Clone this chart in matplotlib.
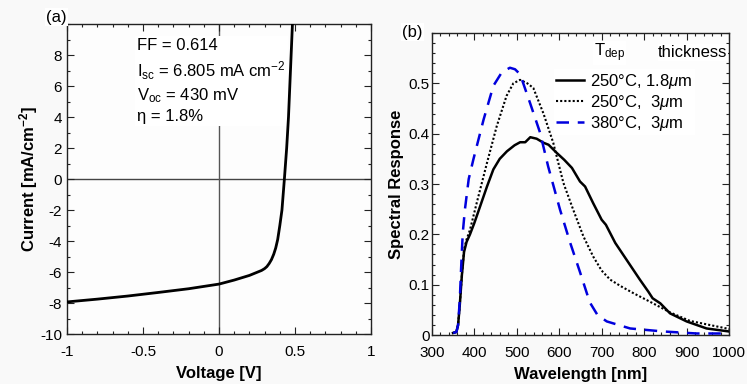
import matplotlib
matplotlib.use("Agg")
import matplotlib.pyplot as plt
from matplotlib.ticker import MultipleLocator

plt.rcParams['font.family'] = ['Liberation Sans', 'DejaVu Sans']
plt.rcParams['mathtext.fontset'] = 'custom'
plt.rcParams['mathtext.rm'] = 'Liberation Sans'
plt.rcParams['mathtext.it'] = 'Liberation Sans:italic'
plt.rcParams['mathtext.bf'] = 'Liberation Sans:bold'

# ---- Panel (a): J-V curve ----
voltage = [-1.0, -0.8, -0.6, -0.4, -0.2, 0.0, 0.1, 0.2, 0.25, 0.28, 0.3, 0.315, 0.33,
           0.345, 0.36, 0.373, 0.386, 0.4, 0.414, 0.43, 0.445, 0.457, 0.47, 0.483]
current = [-7.93, -7.75, -7.55, -7.32, -7.08, -6.78, -6.52, -6.22, -6.02, -5.9, -5.78,
           -5.65, -5.45, -5.2, -4.85, -4.45, -3.9, -3.0, -2.0, 0.0, 2.0, 4.0, 7.0, 10.0]

# ---- Panel (b): spectral response ----
wl_a = [350, 358, 362, 366, 371, 376, 382, 390, 400, 414, 430, 445, 460, 477, 495,
        508, 520, 532, 547, 563, 575, 594, 612, 630, 649, 661, 680, 700, 710, 732,
        759, 790, 810, 820, 838, 861, 900, 947, 1000]
sr_a = [0.004, 0.006, 0.02, 0.06, 0.12, 0.165, 0.185, 0.2, 0.222, 0.256, 0.295,
        0.329, 0.35, 0.365, 0.377, 0.383, 0.383, 0.393, 0.39, 0.382, 0.378, 0.362,
        0.348, 0.332, 0.305, 0.295, 0.262, 0.229, 0.219, 0.183, 0.149, 0.11, 0.086,
        0.073, 0.063, 0.043, 0.027, 0.013, 0.007]

wl_b = [350, 358, 362, 366, 371, 376, 382, 390, 406, 430, 453, 476, 492, 508, 525,
        539, 563, 586, 610, 633, 657, 680, 700, 720, 745, 775, 814, 861, 908, 1000]
sr_b = [0.004, 0.006, 0.02, 0.06, 0.12, 0.17, 0.19, 0.209, 0.263, 0.342, 0.415,
        0.475, 0.5, 0.507, 0.5, 0.491, 0.44, 0.382, 0.302, 0.249, 0.196, 0.156,
        0.128, 0.11, 0.097, 0.083, 0.066, 0.045, 0.028, 0.012]

wl_c = [350, 358, 362, 366, 370, 373, 378, 387, 398, 422, 445, 465, 484, 496, 508,
        531, 555, 574, 602, 626, 649, 672, 690, 712, 767, 845, 924, 1000]
sr_c = [0.004, 0.006, 0.02, 0.07, 0.15, 0.203, 0.249, 0.31, 0.349, 0.428, 0.495,
        0.522, 0.531, 0.528, 0.518, 0.462, 0.402, 0.335, 0.249, 0.183, 0.125, 0.065,
        0.04, 0.027, 0.013, 0.007, 0.003, 0.003]

legend_labels = [r'250°C, 1.8$\mu$m', r'250°C,  3$\mu$m', r'380°C,  3$\mu$m']

fig = plt.figure(figsize=(7.47, 3.84), dpi=100, facecolor='#f9f9f9')

tick_fs = 11
lab_fs = 12

def style_axes(ax, ypad):
    ax.set_facecolor('#fdfdfd')
    ax.tick_params(which='both', direction='in', top=True, right=True, labelsize=tick_fs,
                   color='#222222', width=0.8)
    ax.tick_params(which='major', length=5)
    ax.tick_params(which='minor', length=2.5)
    ax.tick_params(axis='x', which='major', pad=8)
    ax.tick_params(axis='y', which='major', pad=ypad)
    for s in ax.spines.values():
        s.set_linewidth(1.0)
        s.set_color('#222222')

# Panel (a)
axa = fig.add_axes([0.0897, 0.1302, 0.407, 0.8073])
style_axes(axa, 3.5)
axa.axhline(0, color='#444444', lw=1.0, zorder=1)
axa.axvline(0, color='#555555', lw=1.0, zorder=1)
axa.plot(voltage, current, color='black', lw=2.0, zorder=3)
axa.set_xlim(-1, 1)
axa.set_ylim(-10, 10)
axa.set_xticks([-1, -0.5, 0, 0.5, 1])
axa.set_xticklabels(['-1', '-0.5', '0', '0.5', '1'])
axa.xaxis.set_minor_locator(MultipleLocator(0.1))
axa.set_yticks([-10, -8, -6, -4, -2, 0, 2, 4, 6, 8])
axa.set_yticklabels(['-10', '-8', '-6', '-4', '-2', '0', '2', '4', '6', '8'])
axa.yaxis.set_minor_locator(MultipleLocator(1))
axa.set_xlabel('Voltage [V]', fontsize=lab_fs, fontweight='bold', labelpad=5)
axa.set_ylabel(r'Current [mA/cm$^{\mathbf{-2}}$]', fontsize=lab_fs, fontweight='bold', labelpad=0)

ann = ('FF = 0.614\n'
       r'I$_{\rm sc}$ = 6.805 mA cm$^{-2}$' '\n'
       r'V$_{\rm oc}$ = 430 mV' '\n'
       'η = 1.8%')
axa.text(0.23, 0.955, ann, transform=axa.transAxes, ha='left', va='top', fontsize=12,
         linespacing=1.35, zorder=2,
         bbox=dict(facecolor='white', edgecolor='none', pad=1.5))
fig.text(0.062, 0.955, '(a)', fontsize=12, ha='left', va='center',
         bbox=dict(facecolor='white', edgecolor='none', pad=1.0))

# Panel (b)
axb = fig.add_axes([0.578, 0.1276, 0.398, 0.7864])
style_axes(axb, 1.5)
l1, = axb.plot(wl_a, sr_a, color='black', lw=1.8, zorder=3)
l2, = axb.plot(wl_b, sr_b, color='black', lw=1.5, ls=(0, (1, 1)), zorder=3)
l3, = axb.plot(wl_c, sr_c, color='#0000dd', lw=1.8, ls=(0, (5, 3.5)), zorder=3)
axb.set_xlim(300, 1000)
axb.set_ylim(0, 0.6)
axb.set_xticks([300, 400, 500, 600, 700, 800, 900, 1000])
axb.xaxis.set_minor_locator(MultipleLocator(20))
axb.set_yticks([0, 0.1, 0.2, 0.3, 0.4, 0.5])
axb.set_yticklabels(['0', '0.1', '0.2', '0.3', '0.4', '0.5'])
axb.yaxis.set_minor_locator(MultipleLocator(0.02))
axb.set_xlabel('Wavelength [nm]', fontsize=lab_fs, fontweight='bold', labelpad=5)
axb.set_ylabel('Spectral Response', fontsize=lab_fs, fontweight='bold', labelpad=3)

leg = axb.legend([l1, l2, l3], legend_labels, loc='upper left',
                 bbox_to_anchor=(0.41, 0.88), fontsize=12, frameon=True,
                 handlelength=1.7, handletextpad=0.35, labelspacing=0.12,
                 borderpad=0.15, borderaxespad=0.0, fancybox=False)
leg.get_frame().set_facecolor('white')
leg.get_frame().set_edgecolor('none')
leg.get_frame().set_alpha(1.0)

axb.text(0.545, 0.935, r'T$_{\rm dep}$', transform=axb.transAxes, fontsize=12,
         ha='left', va='center', zorder=5,
         bbox=dict(facecolor='white', edgecolor='none', pad=0.5))
axb.text(0.995, 0.935, 'thickness', transform=axb.transAxes, fontsize=12,
         ha='right', va='center', zorder=5,
         bbox=dict(facecolor='white', edgecolor='none', pad=0.5))
fig.text(0.538, 0.916, '(b)', fontsize=12, ha='left', va='center',
         bbox=dict(facecolor='white', edgecolor='none', pad=1.0))

fig.savefig('out.png', dpi=100, facecolor=fig.get_facecolor())
